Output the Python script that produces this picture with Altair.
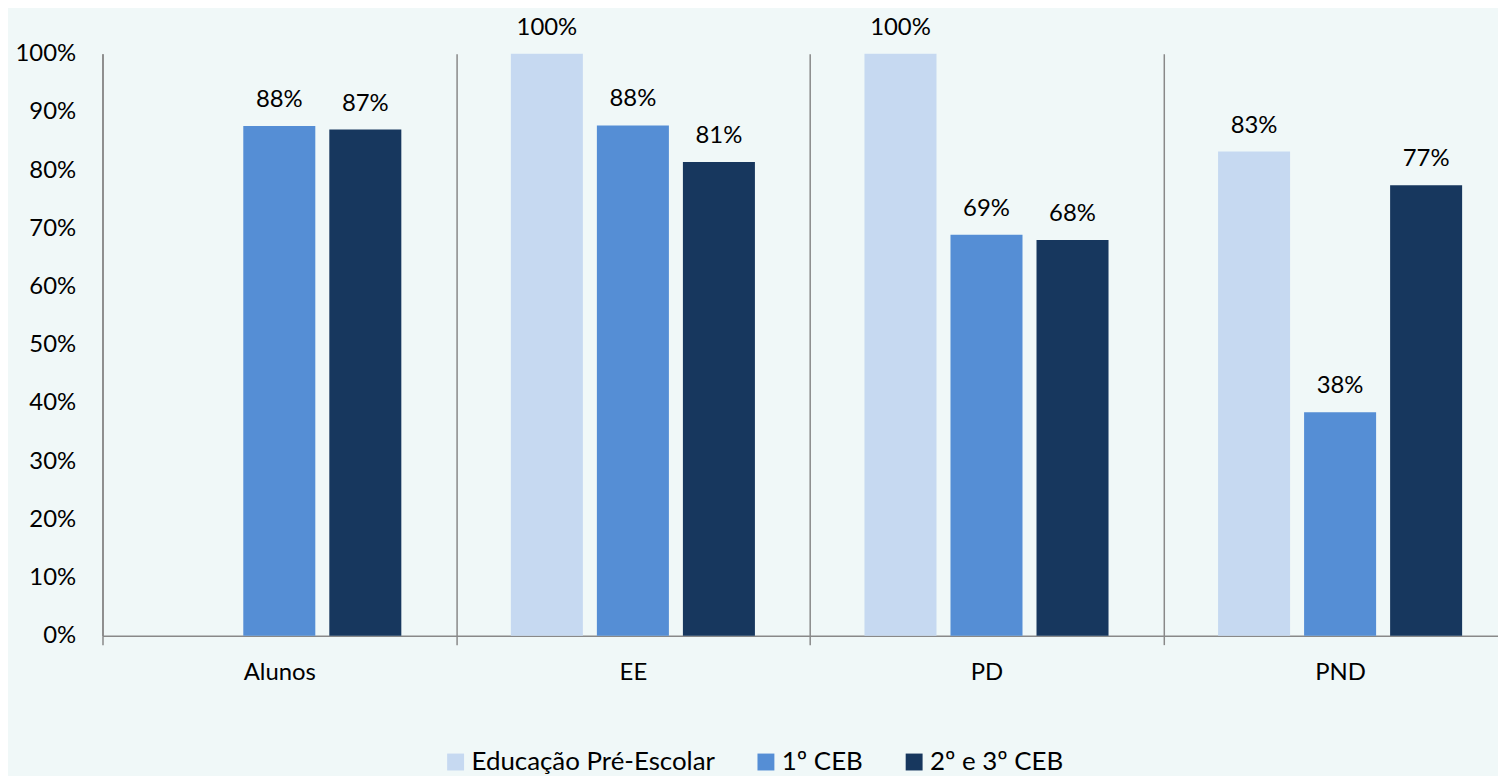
import altair as alt
import pandas as pd

categories = ["Alunos", "EE", "PD", "PND"]
series = ["Educação Pré-Escolar", "1º CEB", "2º e 3º CEB"]
pre_escolar = [None, 1.0, 1.0, 0.832]
ceb1 = [0.876, 0.877, 0.689, 0.384]
ceb23 = [0.870, 0.814, 0.680, 0.774]
colors = ["#C6D9F1", "#558ED5", "#17375E"]
y_ticks = [0.0, 0.1, 0.2, 0.3, 0.4, 0.5, 0.6, 0.7, 0.8, 0.9, 1.0]

rows = []
for i, cat in enumerate(categories):
    for s, vals in zip(series, [pre_escolar, ceb1, ceb23]):
        if vals[i] is not None:
            rows.append({"categoria": cat, "serie": s, "valor": vals[i]})
df = pd.DataFrame(rows)

FONT = "Lato"
GRAY = "#898989"

x = alt.X(
    "categoria:N",
    sort=categories,
    scale=alt.Scale(domain=categories, range=[0, 1422], paddingInner=0, paddingOuter=0),
    axis=alt.Axis(
        title=None, labelAngle=0, tickBand="extent", grid=True,
        gridColor=GRAY, gridWidth=1.5, tickColor=GRAY, tickWidth=1.5, tickSize=9,
        domainColor=GRAY, domainWidth=1.5, labelPadding=16,
        labelFont=FONT, labelFontSize=24, labelColor="#000000",
    ),
)
xo = alt.XOffset(
    "serie:N", sort=series,
    scale=alt.Scale(domain=series, paddingInner=0.1628, paddingOuter=0.6367),
)
y = alt.Y(
    "valor:Q",
    scale=alt.Scale(domain=[0, 1]),
    axis=alt.Axis(
        values=y_ticks, format=".0%", title=None, grid=False, ticks=False,
        domainColor=GRAY, domainWidth=1.5, labelPadding=27,
        labelFont=FONT, labelFontSize=24, labelColor="#000000",
    ),
)

bars = alt.Chart(df).mark_bar().encode(
    x=x, xOffset=xo, y=y,
    color=alt.Color(
        "serie:N", sort=series,
        scale=alt.Scale(domain=series, range=colors),
        legend=alt.Legend(
            title=None, orient="none", legendX=342, legendY=699,
            direction="horizontal", symbolType="square", symbolSize=289,
            symbolStrokeWidth=0, labelFont=FONT, labelFontSize=26,
            labelColor="#000000", columnPadding=38, labelOffset=3,
            labelLimit=0,
        ),
    ),
)

labels = alt.Chart(df).mark_text(
    dy=-19, baseline="alphabetic", font=FONT, fontSize=24, color="#000000"
).encode(
    x=x, xOffset=xo, y=y,
    text=alt.Text("valor:Q", format=".0%"),
)

chart = (
    alt.layer(bars, labels)
    .properties(
        width=1403, height=585,
        autosize=alt.AutoSizeParams(type="none"),
        padding={"left": 95, "top": 44, "right": 0, "bottom": 139},
        background="#F0F8F8",
    )
    .configure_view(stroke=None)
)

chart.save("out.html", embed_options={"renderer": "svg", "actions": False})
